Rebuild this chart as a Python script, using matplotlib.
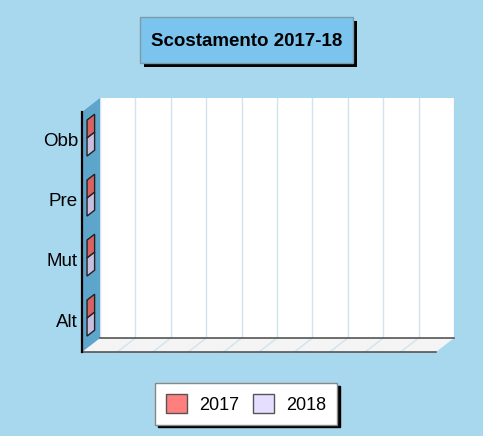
# Scostamento 2017-18 -- horizontal 3D-style bar chart, all values at zero
#

import numpy as np
import matplotlib
matplotlib.use("Agg")
import matplotlib.pyplot as plt
from matplotlib.patches import Polygon, Rectangle, Patch
from matplotlib.transforms import IdentityTransform

categories = ["Obb", "Pre", "Mut", "Alt"]
series = ["2017", "2018"]
values_2017 = [0, 0, 0, 0]
values_2018 = [0, 0, 0, 0]
grid_ticks = np.arange(0, 1.01, 0.1)

plt.rcParams['font.family'] = ['Liberation Sans', 'DejaVu Sans']

bg = '#a8d8ee'
wall = '#5ea5cb'
face_cols = ['#d96262', '#cabde0']      # shaded end faces of the bars
legend_cols = ['#ff7f7f', '#e6deff']
DX, DY = -18, -14                      # depth offset, pixels (display)
W, H = 483, 436

fig = plt.figure(figsize=(W / 100, H / 100), dpi=100, facecolor=bg)
ax = fig.add_axes([100 / W, 1 - 338 / H, 354 / W, 240 / H])
ax.set_xlim(0, 1)
ax.set_ylim(len(categories) - 0.5, -0.5)
ax.set_facecolor('white')
ax.set_xticks(grid_ticks)
ax.set_yticks([])
ax.tick_params(axis='x', length=0, labelbottom=False)
ax.xaxis.grid(True, color='#cfe4ee', lw=1)
ax.set_axisbelow(True)
for s in ax.spines.values():
    s.set_visible(False)

def disp(x, y, t=0.0):
    px, py = ax.transData.transform((x, y))
    return (px + t * DX, py + t * DY)

ymin, ymax = -0.5, len(categories) - 0.5
ident = IdentityTransform()

# floor
floor = [disp(0, ymax), disp(1, ymax), disp(1, ymax, 1), disp(0, ymax, 1)]
fig.add_artist(Polygon(floor, closed=True, fc='#f4f4f4', ec='none', transform=ident, zorder=1))
for gx in grid_ticks[1:-1]:
    a, b = disp(gx, ymax), disp(gx, ymax, 1)
    fig.add_artist(plt.Line2D([a[0], b[0]], [a[1], b[1]], color='#cfe4ee', lw=1, transform=ident, zorder=2))
a, b = disp(0, ymax), disp(1, ymax)
fig.add_artist(plt.Line2D([a[0], b[0]], [a[1], b[1]], color='#555555', lw=1.2, transform=ident, zorder=3))
a, b = disp(0, ymax, 1), disp(1, ymax, 1)
fig.add_artist(plt.Line2D([a[0], b[0]], [a[1], b[1]], color='#555555', lw=1.2, transform=ident, zorder=3))

# left wall
lw_poly = [disp(0, ymin), disp(0, ymax), disp(0, ymax, 1), disp(0, ymin, 1)]
fig.add_artist(Polygon(lw_poly, closed=True, fc=wall, ec='none', transform=ident, zorder=2))
a, b = disp(0, ymin, 1), disp(0, ymax, 1)
fig.add_artist(plt.Line2D([a[0], b[0]], [a[1], b[1]], color='black', lw=1.6, transform=ident, zorder=4))

# bars (end faces, value 0)
bar_h = 0.3
t1, t2 = 0.3, 0.72
for j, vals in enumerate([values_2017, values_2018]):
    for i, v in enumerate(vals):
        y0 = i - bar_h + j * bar_h
        y1 = y0 + bar_h
        pts = [disp(v, y0, t1), disp(v, y0, t2), disp(v, y1, t2), disp(v, y1, t1)]
        fig.add_artist(Polygon(pts, closed=True, fc=face_cols[j], ec='#222222', lw=1,
                               transform=ident, zorder=5))

# category labels on the front plane
for i, c in enumerate(categories):
    x, y = disp(0, i, 1)
    fig.text((x - 4) / W, y / H, c, ha='right', va='center', fontsize=13.5, color='black')

# title box with shadow
fig.add_artist(Rectangle((144, H - 67), 213, 46, fc='black', ec='none', transform=ident, zorder=6))
fig.add_artist(Rectangle((140, H - 63), 213, 46, fc='#7ac4ee', ec='#7f9aa8', lw=1, transform=ident, zorder=7))
fig.text(246.5 / W, 1 - 41 / H, "Scostamento 2017-18", ha='center', va='center',
         fontsize=13.5, fontweight='bold', zorder=8)

# legend
handles = [Patch(fc=legend_cols[k], ec='#555555', lw=1) for k in range(len(series))]
leg = fig.legend(handles, series, loc='center', bbox_to_anchor=(246 / W, 1 - 404 / H), ncol=2,
                 fontsize=13, fancybox=False, shadow={'color': 'black', 'alpha': 1},
                 handlelength=1.2, handleheight=1.2, handletextpad=0.65, columnspacing=0.75,
                 borderpad=0.6, framealpha=1, edgecolor='#888888')
leg.get_frame().set_linewidth(1)

fig.savefig("out.png", dpi=100, facecolor=bg)
